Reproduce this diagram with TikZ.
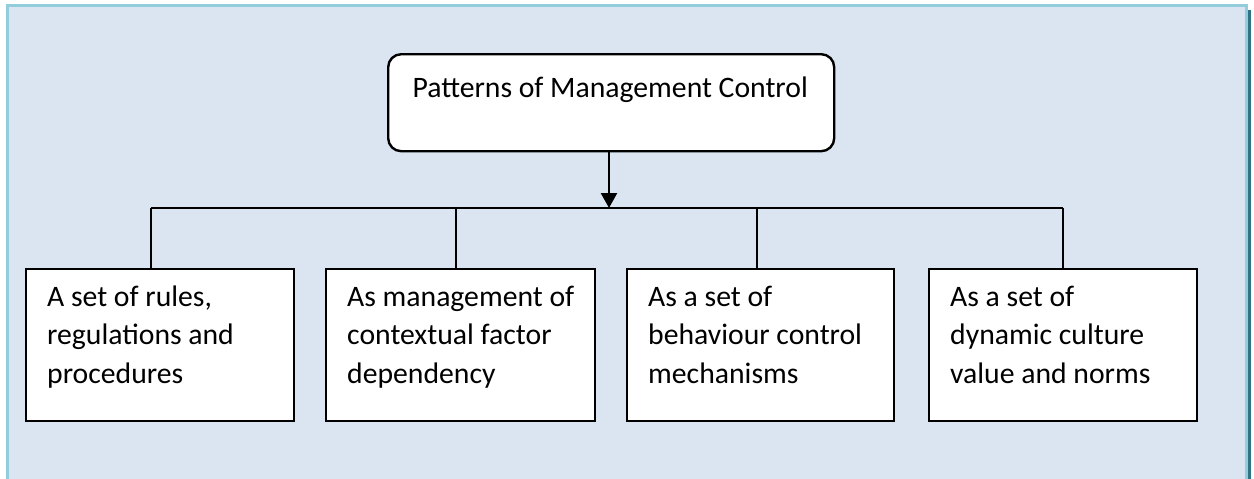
\documentclass[tikz,border=0pt]{standalone}
\usepackage{fontspec}
\setmainfont{Carlito}
\usetikzlibrary{arrows.meta}
\definecolor{bgfill}{HTML}{DBE5F1}
\definecolor{frameline}{HTML}{92CDDC}
\definecolor{shadowc}{HTML}{2F7385}
\begin{document}
\begin{tikzpicture}[x=1pt,y=-1pt,
  leafbox/.style={draw=black, line width=2.4pt, fill=white, minimum width=268pt, minimum height=152pt, inner sep=0pt, anchor=north west},
  topbox/.style={draw=black, line width=2.4pt, fill=white, rounded corners=13pt, minimum width=446pt, minimum height=97pt, inner sep=0pt, anchor=north west},
  bigtext/.style={font=\fontsize{29.7}{38.5}\selectfont, inner sep=0pt},
  leaftext/.style={bigtext, text width=244pt, align=flush left, anchor=base west},
  conn/.style={draw=black, line width=1.7pt},
  mainarrow/.style={draw=black, line width=2.4pt, -{Triangle[width=16pt,length=15pt]}}
]
\useasboundingbox (0,0) rectangle (1254,479);
\fill[white] (0,0) rectangle (1254,479);
% frame with shadow
\fill[shadowc] (1246,10) rectangle (1251,490);
\filldraw[fill=bgfill, draw=frameline, line width=3pt] (7.5,5.5) rectangle (1246.5,495);

% nodes
\node[topbox] (title) at (387,53) {};
\node[bigtext, anchor=base] (titletext) at ([xshift=-1pt,yshift=-44pt]title.north) {Patterns of Management Control};

\node[leafbox] (b1) at (25,268) {};
\node[leafbox, minimum width=269pt] (b2) at (325,268) {};
\node[leafbox, minimum width=267pt] (b3) at (626,268) {};
\node[leafbox] (b4) at (928,268) {};

\node[leaftext] (t1) at ([xshift=22pt,yshift=-38pt]b1.north west) {A set of rules,\\regulations and\\procedures};
\node[leaftext] (t2) at ([xshift=22pt,yshift=-38pt]b2.north west) {As management of\\contextual factor\\dependency};
\node[leaftext] (t3) at ([xshift=22pt,yshift=-38pt]b3.north west) {As a set of\\behaviour control\\mechanisms};
\node[leaftext] (t4) at ([xshift=22pt,yshift=-38pt]b4.north west) {As a set of\\dynamic culture\\value and norms};

% connectors
\coordinate (bus) at (609,208);
\coordinate (v1) at (151,208);
\coordinate (v2) at (456,208);
\coordinate (v3) at (757,208);
\coordinate (v4) at (1063,208);
\draw[conn] (v1) -- (v4);
\draw[conn] (v1) -- (v1 |- b1.north);
\draw[conn] (v2) -- (v2 |- b2.north);
\draw[conn] (v3) -- (v3 |- b3.north);
\draw[conn] (v4) -- (v4 |- b4.north);
\draw[mainarrow] (title.south -| bus) -- (bus);
\end{tikzpicture}
\end{document}
